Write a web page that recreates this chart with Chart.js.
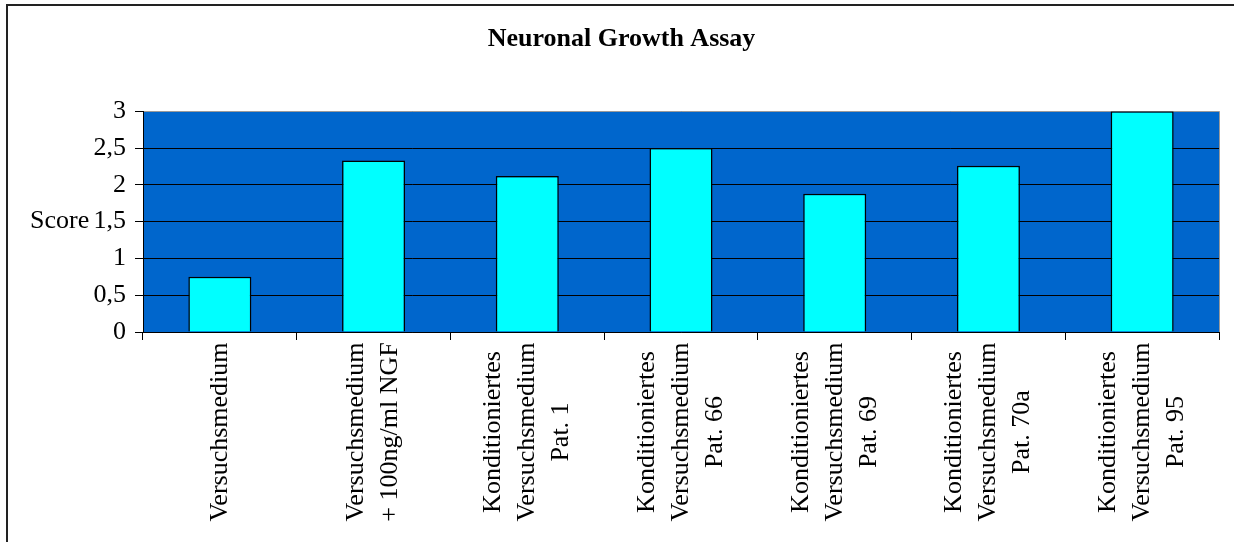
<!DOCTYPE html>
<html>
<head>
<meta charset="utf-8">
<script src="https://cdn.jsdelivr.net/npm/chart.js@4"></script>
<style>
  body { margin: 0; background: #fff; }
  #wrap { width: 1234px; height: 542px; position: relative; }
</style>
</head>
<body>
<div id="wrap"><canvas id="assayChart"></canvas></div>
<script>
// data
const categories = [
    ['Versuchsmedium'],
    ['Versuchsmedium', '+ 100ng/ml NGF'],
    ['Konditioniertes', 'Versuchsmedium', 'Pat. 1'],
    ['Konditioniertes', 'Versuchsmedium', 'Pat. 66'],
    ['Konditioniertes', 'Versuchsmedium', 'Pat. 69'],
    ['Konditioniertes', 'Versuchsmedium', 'Pat. 70a'],
    ['Konditioniertes', 'Versuchsmedium', 'Pat. 95']
];
const scores = [0.75, 2.33, 2.12, 2.5, 1.88, 2.26, 3.0];
const yTicks = [0, 0.5, 1, 1.5, 2, 2.5, 3];

const serif = '"Liberation Serif", "Times New Roman", serif';
Chart.defaults.color = '#000';

// frame + blue plot background
const backdrop = {
    id: 'backdrop',
    beforeDraw(chart) {
        const ctx = chart.ctx;
        const a = chart.chartArea;
        ctx.save();
        ctx.strokeStyle = '#222';
        ctx.lineWidth = 2;
        ctx.beginPath();
        ctx.moveTo(7, chart.height);
        ctx.lineTo(7, 5);
        ctx.lineTo(chart.width, 5);
        ctx.stroke();
        ctx.fillStyle = '#0066CC';
        ctx.fillRect(a.left, a.top, a.right - a.left, a.bottom - a.top);
        ctx.strokeStyle = '#9a9a9a';
        ctx.lineWidth = 1;
        ctx.beginPath();
        ctx.moveTo(a.right + 0.5, a.bottom);
        ctx.lineTo(a.right + 0.5, a.top);
        ctx.stroke();
        ctx.restore();
    }
};

// horizontal "Score" title and centred multi-line rotated labels
const axisText = {
    id: 'axisText',
    afterDraw(chart) {
        const ctx = chart.ctx;
        const x = chart.scales.x;
        const y = chart.scales.y;
        ctx.save();
        ctx.fillStyle = '#000';
        ctx.font = '26px ' + serif;
        ctx.textAlign = 'left';
        ctx.textBaseline = 'middle';
        ctx.fillText('Score', 30, y.getPixelForValue(1.5));

        const lineH = 34;
        const midY = x.bottom - 110;
        categories.forEach((lines, i) => {
            const cx = x.getPixelForTick(i);
            lines.forEach((txt, j) => {
                const lx = cx + (j - (lines.length - 1) / 2) * lineH;
                ctx.save();
                ctx.translate(lx, midY);
                ctx.rotate(-Math.PI / 2);
                ctx.textAlign = 'center';
                ctx.fillText(txt, 0, 0);
                ctx.restore();
            });
        });
        ctx.restore();
    }
};

new Chart(document.getElementById('assayChart'), {
    type: 'bar',
    data: {
        labels: categories,
        datasets: [{
            data: scores,
            backgroundColor: '#00FFFF',
            borderColor: '#000',
            borderWidth: 1.5,
            barPercentage: 0.41,
            categoryPercentage: 1
        }]
    },
    options: {
        responsive: true,
        maintainAspectRatio: false,
        animation: false,
        layout: { padding: { left: 24, right: 15, top: 0, bottom: 0 } },
        plugins: {
            legend: { display: false },
            tooltip: { enabled: false },
            title: {
                display: true,
                text: 'Neuronal Growth Assay',
                font: { family: serif, size: 26, weight: 'bold' },
                padding: { top: 24, bottom: 56 }
            }
        },
        scales: {
            x: {
                grid: { drawOnChartArea: false, color: '#000', tickLength: 8 },
                border: { color: '#000', width: 1 },
                ticks: { display: false },
                afterFit(scale) { scale.height = 210; }
            },
            y: {
                min: 0,
                max: 3,
                afterBuildTicks(scale) { scale.ticks = yTicks.map(v => ({ value: v })); },
                grid: {
                    color: ctx => (ctx.tick && ctx.tick.value === 3 ? '#9a9a9a' : '#000'),
                    tickColor: '#000',
                    tickLength: 8
                },
                border: { color: '#000', width: 1 },
                ticks: {
                    padding: 9,
                    font: { family: serif, size: 26 },
                    callback: v => String(v).replace('.', ',')
                },
                afterFit(scale) { scale.width = 119; }
            }
        }
    },
    plugins: [backdrop, axisText]
});
</script>
</body>
</html>
